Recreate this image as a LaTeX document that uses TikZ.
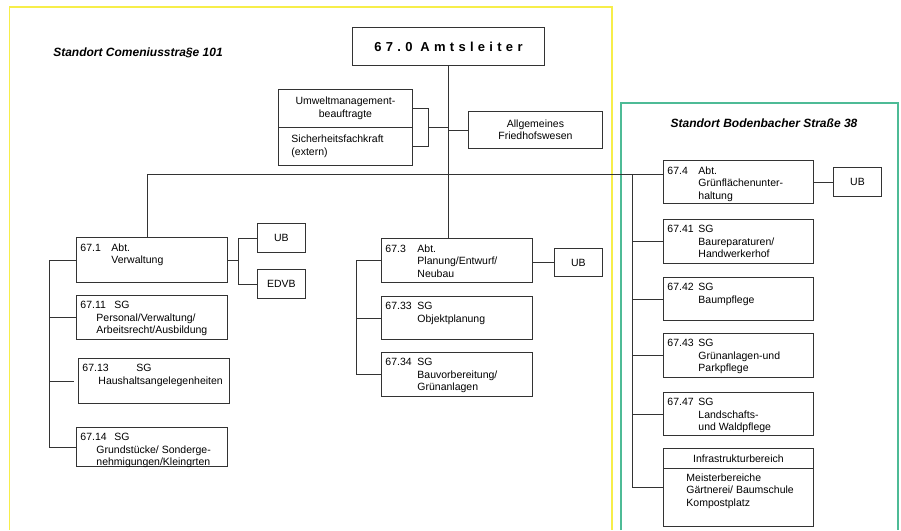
\documentclass[tikz,border=0pt]{standalone}
\usepackage{fontspec}
\setmainfont{Liberation Sans}
\newfontfamily\spacedsf[LetterSpace=33]{Liberation Sans}
\usetikzlibrary{calc}
\definecolor{cyellow}{HTML}{F7EE4A}
\definecolor{cgreen}{HTML}{4DBB96}
\definecolor{cline}{HTML}{333333}
\newcommand{\nr}[2][31pt]{\makebox[#1][l]{#2}}
\newcommand{\ind}[1][31pt]{\hspace*{#1}}
\tikzset{
  every picture/.style={line width=0.9pt},
  txt/.style={font=\fontsize{10.5}{12.5}\selectfont},
  unit/.style={draw=cline, anchor=north west, inner sep=0pt, minimum width=#1},
  unit/.default=151,
  utext/.style={txt, anchor=north west, inner xsep=4pt, inner ysep=6pt, align=left},
  link/.style={draw=cline},
  site/.style={font=\fontsize{12}{14}\selectfont\bfseries\itshape},
  zone/.style={draw=#1, line width=1.2pt},
}

\begin{document}
\begin{tikzpicture}[x=1pt,y=-1pt]
  \useasboundingbox (0,0) rectangle (901,530);
  \draw[zone=cyellow] (9.5,530) |- (612,7) -- (612,530);
  \draw[zone=cgreen] (621,530) |- (898,103) -- (898,530);
  \node[site] (lblcom) at (138,53) {Standort Comeniusstra§e 101};
  \node[site] (lblbod) at (764,123) {Standort Bodenbacher Straße 38};

  % head and staff units
  \node[unit=192, minimum height=38, font=\spacedsf\bfseries\fontsize{13}{15}\selectfont] (amt) at (352,27) {67.0 Amtsleiter};
  \node[unit=134, minimum height=38, txt, align=center] (umwelt) at (278,89) {Umweltmanagement-\\beauftragte};
  \node[unit=134, minimum height=38, txt, align=left, text width=108pt, inner xsep=13pt] (sicher) at (278,127) {Sicherheitsfachkraft\\(extern)};
  \node[unit=134, minimum height=37, txt, align=center] (allg) at (468,111) {Allgemeines\\Friedhofswesen};

  % 67.1
  \node[unit, minimum height=45, label={[utext]north west:{\nr{67.1}Abt.\\\ind Verwaltung}}] (b671) at (76,237) {};
  \node[unit=48, minimum height=29, txt] (ub1) at (257,223) {UB};
  \node[unit=48, minimum height=29, txt] (edvb) at (257,269) {EDVB};
  \node[unit, minimum height=44, label={[utext]north west:{\nr[34pt]{67.11}SG\\\ind[16pt]Personal/Verwaltung/\\\ind[16pt]Arbeitsrecht/Ausbildung}}] (b6711) at (76,295) {};
  \node[unit, minimum height=45, label={[utext]north west:{\nr[54pt]{67.13}SG\\\ind[16pt]Haushaltsangelegenheiten}}] (b6713) at (78,358) {};
  \node[unit, minimum height=39, label={[utext]north west:{\nr[34pt]{67.14}SG\\\ind[16pt]Grundstücke/ Sonderge-\\\ind[16pt]nehmigungen/Kleingrten}}] (b6714) at (76,427) {};

  % 67.3
  \node[unit, minimum height=44, label={[utext]north west:{\nr[32pt]{67.3}Abt.\\\ind[32pt]Planung/Entwurf/\\\ind[32pt]Neubau}}] (b673) at (381,238) {};
  \node[unit=48, minimum height=28, txt] (ub3) at (554,248) {UB};
  \node[unit, minimum height=43, label={[utext]north west:{\nr[32pt]{67.33}SG\\\ind[32pt]Objektplanung}}] (b6733) at (381,296) {};
  \node[unit, minimum height=44, label={[utext]north west:{\nr[32pt]{67.34}SG\\\ind[32pt]Bauvorbereitung/\\\ind[32pt]Grünanlagen}}] (b6734) at (381,352) {};

  % 67.4
  \node[unit=150, minimum height=43, label={[utext]north west:{\nr{67.4}Abt.\\\ind Grünflächenunter-\\\ind haltung}}] (b674) at (663,160) {};
  \node[unit=48, minimum height=29, txt] (ub4) at (833,167) {UB};
  \node[unit=150, minimum height=44, label={[utext]north west:{\nr{67.41}SG\\\ind Baureparaturen/\\\ind Handwerkerhof}}] (b6741) at (663,219) {};
  \node[unit=150, minimum height=43, label={[utext]north west:{\nr{67.42}SG\\\ind Baumpflege}}] (b6742) at (663,277) {};
  \node[unit=150, minimum height=44, label={[utext]north west:{\nr{67.43}SG\\\ind Grünanlagen-und\\\ind Parkpflege}}] (b6743) at (663,333) {};
  \node[unit=150, minimum height=43, label={[utext]north west:{\nr{67.47}SG\\\ind Landschafts-\\\ind und Waldpflege}}] (b6747) at (663,392) {};
  \node[unit=150, minimum height=20, txt] (infrahead) at (663,448) {Infrastrukturbereich};
  \node[unit=150, minimum height=58, label={[utext, inner xsep=23pt, inner ysep=5pt]north west:{Meisterbereiche\\Gärtnerei/ Baumschule\\Kompostplatz}}] (infrabody) at (663,468) {};

  % connectors
  \coordinate (bus) at (147,174);
  \coordinate (rbus) at (632,174);
  \coordinate (stab) at ($(umwelt.east)!0.5!(sicher.east)+(16,0)$);
  \draw[link] (amt.south) -- (amt.south |- b673.north);
  \draw[link] (umwelt.east) -| (stab) |- (sicher.east);
  \draw[link] (stab) -- (stab -| amt.south);
  \draw[link] (allg.west) -- (allg.west -| amt.south);
  \draw[link] (bus |- b671.north) -- (bus) -- (bus -| b674.west);
  \draw[link] (rbus) |- ($(infrahead.north west)!0.5!(infrabody.south west)$);
  \foreach \n in {6741,6742,6743,6747}
    \draw[link] (rbus |- b\n.west) -- (b\n.west);
  \draw[link] (b674.east) -- (ub4.west);
  \draw[link] (b671.west) -- ++(-27,0) coordinate (lb) |- (b6714.west);
  \draw[link] (lb |- b6711.west) -- (b6711.west);
  \draw[link] (lb |- b6713.west) -- ++(25,0);
  \draw[link] (b671.east) -- ++(11,0);
  \draw[link] (ub1.west) -- ++(-19,0) |- (edvb.west);
  \draw[link] (b673.west) -- ++(-25,0) coordinate (mb) |- (b6734.west);
  \draw[link] (mb |- b6733.west) -- (b6733.west);
  \draw[link] (ub3.west -| b673.east) -- (ub3.west);
\end{tikzpicture}
\end{document}
